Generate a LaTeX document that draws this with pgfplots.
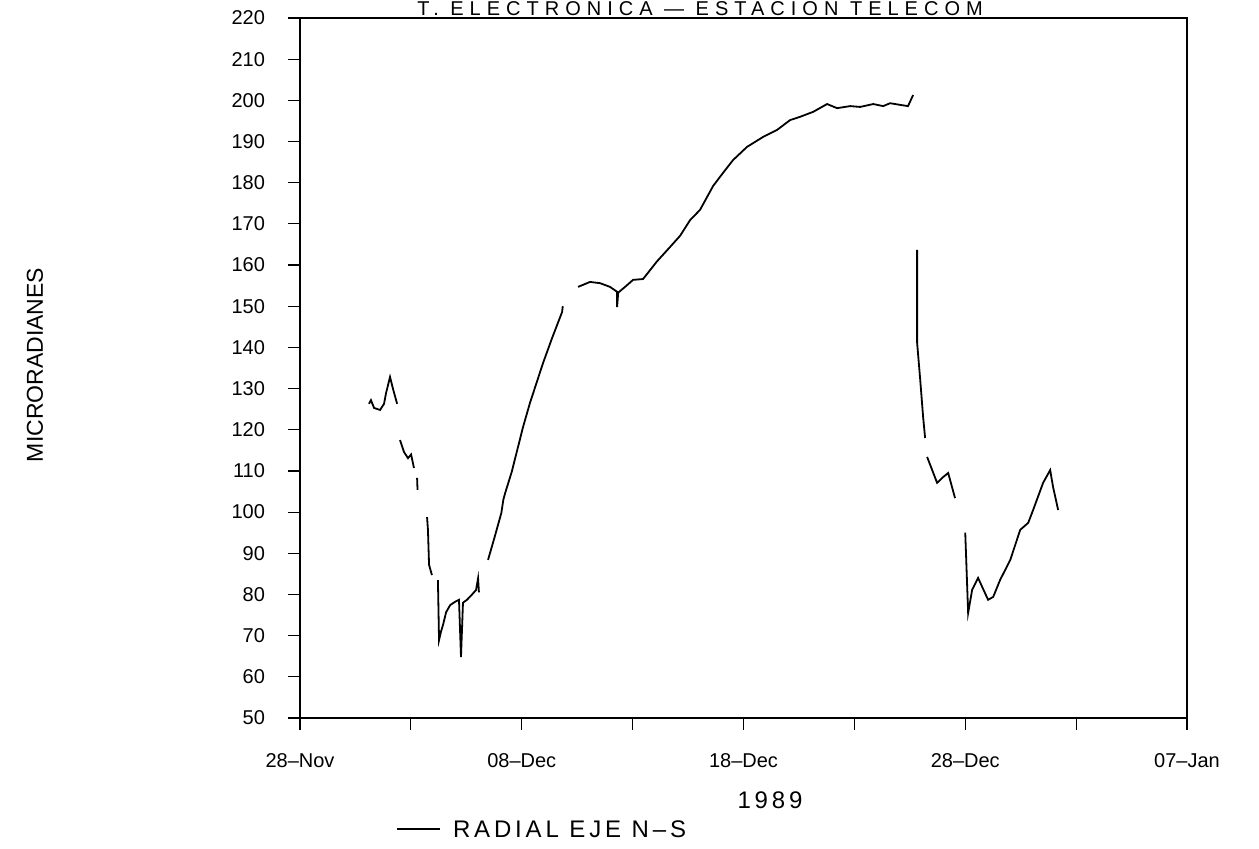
\documentclass[border=0pt]{standalone}
\usepackage{pgfplots}
\pgfplotsset{compat=1.18}
\usepackage{fontspec}
\setmainfont{Liberation Sans}
\newfontfamily\widefont[LetterSpace=16]{Liberation Sans}
\newfontfamily\titlefont[LetterSpace=30]{Liberation Sans}

\begin{document}
\begin{tikzpicture}[x=1pt,y=1pt]
% picture frame: 1 px of the reference = 0.5pt
\path[use as bounding box] (-150,-65.5) rectangle (479.5,359);
  \begin{axis}[
    at={(0,0)}, anchor=south west,
    scale only axis,
    width=443.5pt, height=350pt,
    xmin=0, xmax=40, ymin=50, ymax=220,
    xtick={0,10,20,30,40},
    xticklabels={28\textendash Nov,08\textendash Dec,18\textendash Dec,28\textendash Dec,07\textendash Jan},
    minor xtick={5,15,25,35},
    ytick={50,60,...,220},
    tick align=outside, tick pos=left,
    major tick length=6pt, minor tick length=6pt,
    every tick/.style={black, line width=0.6pt},
    axis line style={line width=0.8pt},
    tick label style={font=\fontsize{10}{12}\selectfont},
    /pgf/number format/assume math mode=true,
    yticklabel style={xshift=-8pt},
    xticklabel style={yshift=-8pt},
    unbounded coords=jump,
    clip=false,
  ]
\addplot[black, line width=0.9pt] table {
x y
3.11 126.3
3.20 127.2
3.34 125.3
3.61 124.8
3.79 126.3
3.88 128.9
4.06 132.8
4.19 130.0
4.38 126.3
nan nan
4.51 117.5
4.69 114.6
4.87 113.1
5.01 114.0
5.14 110.7
nan nan
5.28 108.3
5.30 105.4
nan nan
5.73 98.8
5.77 95.7
5.82 87.2
5.95 84.7
nan nan
6.22 83.5
6.27 68.9
6.36 71.0
6.45 72.6
6.59 75.7
6.77 77.4
6.99 78.2
7.17 78.7
7.26 64.8
7.35 78.0
7.53 78.7
7.76 80.0
7.94 81.1
8.03 83.9
8.07 80.5
nan nan
8.48 88.4
8.78 94.0
9.08 99.8
9.17 103.0
9.25 104.6
9.55 109.8
10.06 120.7
10.37 126.5
10.96 136.2
11.37 142.3
11.82 148.6
11.85 150.0
nan nan
12.54 154.7
13.08 155.9
13.53 155.6
13.98 154.7
14.30 153.5
14.30 149.8
14.35 153.3
14.66 154.7
15.02 156.4
15.47 156.6
16.10 160.9
16.69 164.4
17.14 167.1
17.59 170.9
18.04 173.4
18.63 179.2
19.08 182.4
19.53 185.5
20.16 188.7
20.88 191.1
21.51 192.8
22.10 195.2
22.55 196.0
23.14 197.2
23.77 199.1
24.22 198.1
24.81 198.6
25.26 198.4
25.85 199.1
26.30 198.6
26.61 199.3
27.06 198.9
27.42 198.6
27.65 201.3
nan nan
27.83 163.7
27.83 141.1
27.97 132.1
28.10 123.1
28.19 118.0
nan nan
28.28 113.4
28.51 110.2
28.73 107.1
29.00 108.5
29.23 109.5
29.54 103.4
nan nan
30.00 95.0
30.13 75.5
30.31 81.1
30.58 84.0
31.03 78.7
31.26 79.4
31.57 83.5
32.03 88.4
32.48 95.7
32.84 97.4
33.06 100.5
33.51 107.1
33.83 110.2
33.96 106.1
34.19 100.5
};
  \end{axis}
% texts around the axis
\node[anchor=base, inner sep=0pt, font=\titlefont\fontsize{10}{12}\selectfont] at (200,351.3) {T. ELECTRONICA \textemdash\ ESTACION TELECOM};
\node[rotate=90, font=\fontsize{11.5}{14}\selectfont] at (-132.5,176.5) {MICRORADIANES};
\node[font=\widefont\fontsize{12}{14}\selectfont] at (235,-41) {1989};
\draw[line width=0.8pt] (48.5,-55.5) -- (70,-55.5);
\node[anchor=west, font=\widefont\fontsize{12}{14}\selectfont] at (73,-55.5) {RADIAL EJE N\textendash S};
\end{tikzpicture}
\end{document}
